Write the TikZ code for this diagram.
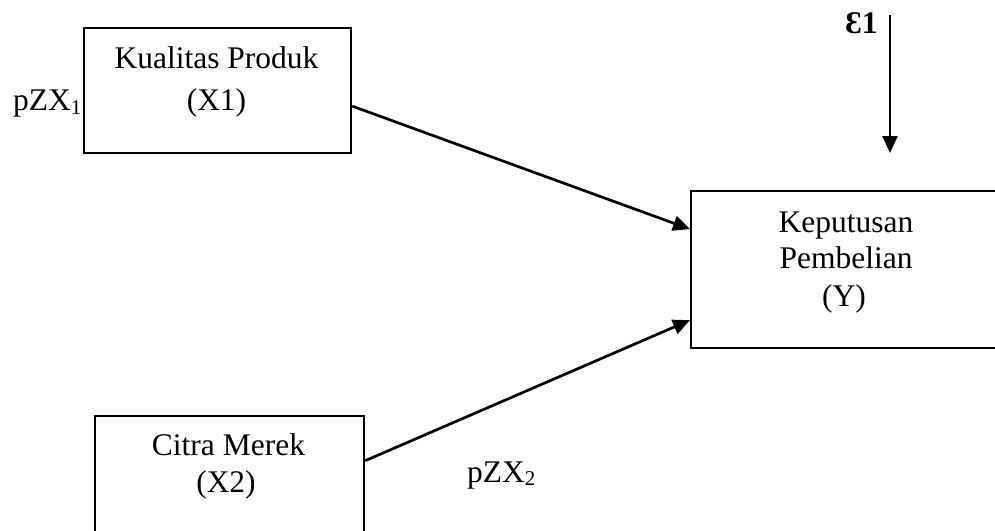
\documentclass[tikz,border=0pt]{standalone}
\usepackage{fontspec}
\setmainfont{Liberation Serif}
\usetikzlibrary{arrows.meta}
\begin{document}
\begin{tikzpicture}[x=1pt,y=-1pt,
  box/.style={draw,line width=2.3pt,rectangle,inner sep=0pt,anchor=north west},
  txt/.style={font=\fontsize{31.5}{36}\selectfont,anchor=base,inner sep=0pt},
  lbl/.style={font=\fontsize{31.5}{36}\selectfont,anchor=base west,inner sep=0pt},
  arr/.style={line width=2.7pt,-{Triangle[length=17pt,width=15pt]}}]
\useasboundingbox (0,0) rectangle (995,530);
\fill[white] (0,0) rectangle (995,530);
% variable boxes
\node[box,minimum width=267pt,minimum height=125pt] (x1) at (83,27) {};
\node[box,minimum width=269pt,minimum height=130pt] (x2) at (94,415) {};
\node[box,minimum width=312pt,minimum height=157pt] (y) at (690,190) {};
% box texts
\node[txt] (x1a) at (216.5,68) {Kualitas Produk};
\node[txt] (x1b) at (216.5,110) {(X1)};
\node[txt] (x2a) at (228.5,455) {Citra Merek};
\node[txt] (x2b) at (226,492) {(X2)};
\node[txt] (ya) at (846,232) {Keputusan};
\node[txt] (yb) at (846,268) {Pembelian};
\node[txt] (yc) at (844,306) {(Y)};
% path coefficients and residual
\node[lbl] (p1) at (13,110) {pZX\raisebox{-0.15em}{\fontsize{21}{21}\selectfont 1}};
\node[lbl] (p2) at (467,482) {pZX\raisebox{-0.12em}{\fontsize{21}{21}\selectfont 2}};
\node[lbl,font=\fontsize{31.5}{36}\selectfont\bfseries] (eps) at (845,33) {Ɛ1};
\coordinate (etop) at (890,15);
\coordinate (etip) at (890,153);
% arrows
\draw[arr] ([yshift=-15.5pt]x1.east) -- ([yshift=40.5pt]y.west);
\draw[arr] ([yshift=20.5pt]x2.east) -- ([yshift=-50.5pt]y.west);
\draw[arr] (etop) -- (etip);
\end{tikzpicture}
\end{document}
